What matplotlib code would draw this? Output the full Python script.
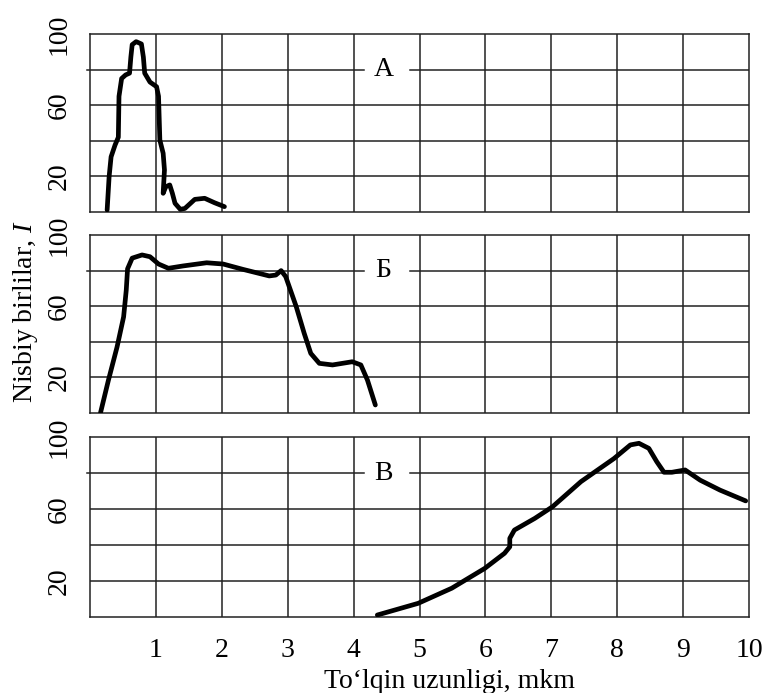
import matplotlib
matplotlib.use("Agg")
import matplotlib.pyplot as plt

plt.rcParams['font.family'] = ['Liberation Serif', 'DejaVu Serif']
plt.rcParams['mathtext.fontset'] = 'custom'
plt.rcParams['mathtext.rm'] = 'Liberation Serif'
plt.rcParams['mathtext.it'] = 'Liberation Serif:italic'

# Panel A
xa = [0.26, 0.29, 0.32, 0.38, 0.43, 0.44, 0.48, 0.54, 0.60, 0.62, 0.64, 0.70, 0.78,
      0.81, 0.83, 0.91, 1.01, 1.04, 1.06, 1.11, 1.13, 1.11, 1.15, 1.21, 1.25, 1.29,
      1.37, 1.44, 1.59, 1.74, 1.89, 2.04]
ya = [1.1, 19.8, 31, 37.6, 42, 65, 75, 77, 78, 87, 94, 95.7, 94.4,
      87, 78, 73, 70.4, 65, 40.4, 33, 23.6, 10.5, 14.2, 15.2, 10.5, 4.9,
      1.5, 2, 7.1, 7.7, 5.2, 3]
# Panel Б
xb = [0.16, 0.28, 0.41, 0.51, 0.55, 0.57, 0.64, 0.79, 0.91, 1.04, 1.19, 1.41, 1.77,
      2.02, 2.32, 2.72, 2.82, 2.90, 2.97, 3.13, 3.25, 3.35, 3.48, 3.68, 3.98, 4.11,
      4.21, 4.33]
yb = [0.2, 18.5, 37, 54, 69, 81, 87, 88.8, 87.8, 83.7, 81.3, 82.6, 84.4,
      83.7, 80.7, 77, 77.5, 80, 76.6, 59.7, 44.8, 33.5, 27.9, 27, 28.8, 27,
      18.5, 4.5]
# Panel В
xc = [4.36, 4.98, 5.49, 5.99, 6.29, 6.37, 6.37, 6.44, 6.75, 7.02, 7.45, 7.95, 8.20,
      8.33, 8.48, 8.60, 8.71, 8.83, 9.03, 9.26, 9.56, 9.95]
yc = [1.1, 7.6, 16, 27, 35.4, 39, 43.7, 48.3, 54.8, 61.3, 75.2, 88, 95.6,
      96.5, 93.7, 86.3, 80.4, 80.4, 81.7, 76, 70.5, 64.5]

panel_labels = ['А', 'Б', 'В']
x_ticks = [1, 2, 3, 4, 5, 6, 7, 8, 9, 10]
y_ticks = [20, 60, 100]
grid_y = [20, 40, 60]
grid_x = [1, 2, 3, 4, 5, 6, 7, 8, 9]

fig = plt.figure(figsize=(7.71, 6.93), dpi=100)
W, H = 771, 693
left, right = 90, 749
panels = [(34, 212), (235, 413), (437, 617)]
series = [(xa, ya), (xb, yb), (xc, yc)]
gcol = '#222222'
glw = 1.1

for i, ((top, bot), (xs, ys), lab) in enumerate(zip(panels, series, panel_labels)):
    ax = fig.add_axes([left / W, 1 - bot / H, (right - left) / W, (bot - top) / H])
    ax.set_xlim(0, 10)
    ax.set_ylim(0, 100)
    for s in ax.spines.values():
        s.set_color(gcol)
        s.set_linewidth(glw)
    for gx in grid_x:
        ax.axvline(gx, color=gcol, lw=glw, zorder=1)
    for gy in grid_y:
        ax.axhline(gy, color=gcol, lw=glw, zorder=1)
    # 80 line, broken around the label
    ax.plot([-0.05, 4.16], [80, 80], color=gcol, lw=glw, clip_on=False, zorder=1)
    ax.plot([4.86, 10], [80, 80], color=gcol, lw=glw, zorder=1)
    ax.text(4.45, 80, lab, ha='center', va='center', fontsize=20)
    ax.plot(xs, ys, color='black', lw=3.4, solid_joinstyle='round',
            solid_capstyle='round', zorder=3)
    ax.set_yticks(y_ticks)
    ax.set_yticklabels([str(t) for t in y_ticks], rotation=90, va='center', fontsize=20)
    ax.tick_params(axis='y', length=0, pad=13)
    if i < 2:
        ax.set_xticks([])
    else:
        ax.set_xticks(x_ticks)
        ax.set_xticklabels([str(t) for t in x_ticks], fontsize=20)
        ax.tick_params(axis='x', length=0, pad=15)

fig.text(449 / W, 1 - 682 / H, 'To‘lqin uzunligi, mkm', ha='center', va='center', fontsize=20)
fig.text(25 / W, 1 - 312 / H, 'Nisbiy birlilar, $I$', ha='center', va='center',
         rotation=90, fontsize=20)

fig.savefig('out.png', dpi=100)
